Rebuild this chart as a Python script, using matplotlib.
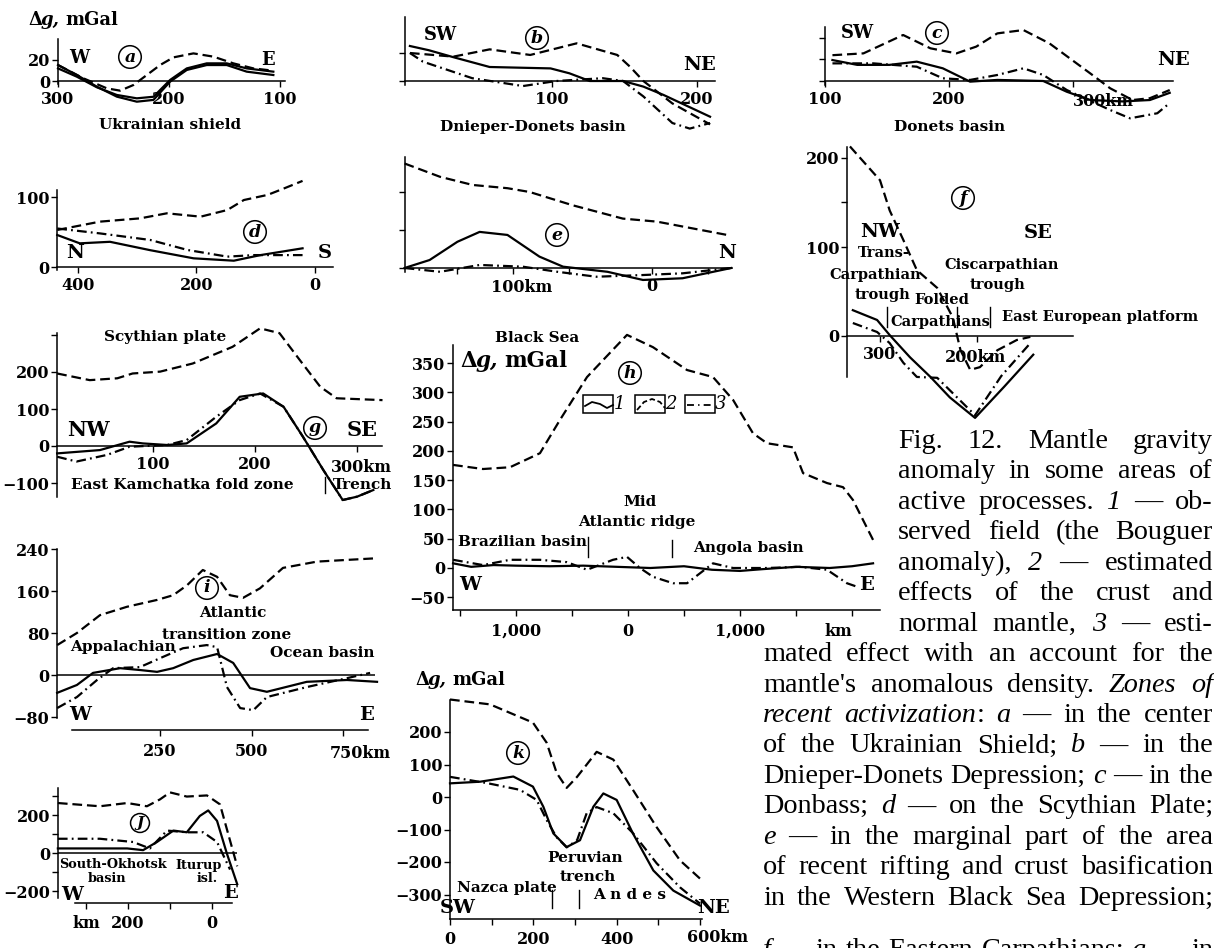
import matplotlib.pyplot as plt
from matplotlib.patches import Rectangle

plt.rcParams['font.family'] = ['DejaVu Serif']
plt.rcParams['font.weight'] = 'bold'
plt.rcParams['lines.scale_dashes'] = False
plt.rcParams['axes.linewidth'] = 1.1

W, H = 1214, 948
MINUS = '\u2212'

# ---------------- data (km, mGal) ----------------
# a  Ukrainian shield
a_obs_km = [300, 283, 265, 247, 229, 214, 199, 184, 166, 148, 130, 106]
a_obs = [15.2, 5.7, -5.4, -14.9, -19.7, -18, -0.6, 10.5, 15.2, 15.2, 8.9, 5.7]
a_crust_km = [300, 277, 256, 244, 232, 220, 208, 196, 178, 160, 142, 124, 106]
a_crust = [15.2, 2.5, -7, -9.2, -3.8, 5.7, 15.2, 22.5, 26.3, 23.2, 16.8, 12, 9.8]
a_mant_km = [300, 283, 265, 247, 229, 214, 199, 184, 166, 148, 130, 106]
a_mant = [12, 4.1, -6, -13.3, -16.5, -15, 1, 12, 16.8, 16.8, 12, 8.9]

# b  Dnieper-Donets basin
b_obs_km = [2, 15, 32, 57, 99, 112, 126, 149, 163, 177, 209]
b_obs = [25, 22, 17, 10, 9, 5.5, 0, 0, -4, -10, -25.5]
b_crust_km = [2, 32, 57, 85, 117, 145, 154, 163, 183, 209]
b_crust = [20, 17.4, 22.6, 18.6, 26.9, 18.6, 10, 0, -16, -31]
b_mant_km = [2, 11, 45, 80, 103, 135, 149, 163, 183, 195, 209]
b_mant = [20, 13.8, 2, -3.6, 0, 2, 0, -11, -30, -34, -30]

# c  Donets basin
c_obs_km = [106, 126, 152, 174, 195, 217, 239, 276, 295, 314, 340, 362, 378]
c_obs = [19.5, 15, 15, 18, 11.8, -0.6, 1, 0, -10, -17.7, -19, -17.7, -11]
c_crust_km = [106, 131, 163, 185, 206, 222, 239, 260, 281, 314, 330, 348, 362, 378]
c_crust = [24, 25.7, 42.8, 30.4, 25.7, 32, 44.3, 47.4, 35, 7, -6.8, -17.7, -16, -8.4]
c_mant_km = [106, 139, 174, 195, 217, 239, 260, 276, 295, 330, 346, 368, 378]
c_mant = [16.4, 16.4, 13.3, 2.5, 1, 5.6, 11.8, 5.6, -8.4, -27, -34.7, -30, -20.5]

# d  Scythian plate
d_obs_km = [435, 397, 346, 278, 205, 137, 92, 21]
d_obs = [45.7, 33.8, 36, 24, 12.4, 9, 17, 26.7]
d_crust_km = [435, 363, 295, 250, 193, 148, 120, 80, 53, 21]
d_crust = [52.9, 64.8, 69.5, 76.7, 71.9, 81.4, 95.7, 103, 112, 123]
d_mant_km = [435, 363, 278, 215, 148, 103, 21]
d_mant = [55, 48, 38.6, 24.3, 14.8, 17, 17]

# e  Western Black Sea
e_obs_km = [178, 160, 140, 124, 104, 81, 64, 32, 6.5, -22, -57]
e_obs = [0, 4.2, 13.8, 19, 17.4, 6, 0.7, -2, -6.3, -5.4, 0]
e_crust_km = [178, 152.5, 129, 104, 88, 57, 21, -3.6, -54]
e_crust = [55, 48, 43.7, 42, 40, 33, 26, 24.4, 17.4]
e_mant_km = [178, 152.5, 124, 93, 68, 40, 6.5, -22, -57]
e_mant = [0, -2, 1.6, 0.7, -2, -4.6, -3.7, -2.8, 0]

# f  Eastern Carpathians
f_obs_km = [328, 303, 290, 269, 248, 228, 202, 172, 142]
f_obs = [29, 18, 1, -24, -46, -69, -92, -57, -21]
f_crust_km = [331, 300, 290, 276, 262, 241, 225, 217, 207, 197, 179, 159, 145]
f_crust = [213, 175, 141, 108, 74, 54, 21, -16, -38, -35, -16, -4.5, -1]
f_mant_km = [328, 303, 290, 276, 262, 241, 202, 175, 145]
f_mant = [14.6, 4.5, -8, -30, -46, -47, -89, -45, -8]

# g  East Kamchatka
g_obs_km = [6, 48, 77, 90, 114, 133, 162, 185, 208, 228, 247, 267, 286, 300, 316]
g_obs = [-20, -11, 11.6, 7, 2.7, 7, 61, 133, 142, 106, 25, -65, -146, -137, -119]
g_crust_km = [6, 38, 65, 80, 107, 139, 178, 205, 224, 244, 264, 280, 325]
g_crust = [196, 178, 183, 196, 201, 223, 268, 318, 305, 232, 160, 129, 124]
g_mant_km = [6, 25, 55, 77, 114, 133, 162, 185, 205, 228, 247, 267, 286, 300, 316]
g_mant = [-29, -42, -24, -2, 2.7, 16, 79, 124, 142, 106, 25, -65, -146, -137, -119]

# h  Mid-Atlantic ridge
h_obs_km = [-1562, -1400, -1200, -1000, -700, -400, -100, 200, 500, 750, 1000, 1200,
            1500, 1800, 2000, 2188]
h_obs = [8, 2, 5, 4, 3, 4, 2, 0, 3, -3, -5, -2, 2, 0, 3, 8]
h_crust_km = [-1562, -1295, -1054, -786, -607, -366, -9, 223, 527, 759, 938, 1116,
              1241, 1473, 1563, 1777, 1920, 2009, 2188]
h_crust = [176, 169, 172, 196, 253, 326, 398, 377, 338, 326, 287, 230, 213, 206, 162,
           145, 138, 116, 48]
h_mant_km = [-1562, -1295, -1054, -786, -545, -366, -134, -9, 107, 223, 402, 527, 643,
             759, 938, 1241, 1536, 1777, 1955, 2045]
h_mant = [14, 5, 14, 14, 10, -3, 14, 19, 0, -15, -26, -26, -9, 8, 0, 0, 2, -3, -26, -32]

# i  Atlantic transition zone
i_obs_km = [-31, 23, 67, 141, 195, 242, 286, 341, 406, 450, 496, 542, 651, 761, 843]
i_obs = [-34, -19, 4, 13, 9.5, 6, 13, 28.6, 40, 23, -25, -32, -13, -9.5, -13]
i_crust_km = [-31, 23, 86, 160, 242, 286, 324, 367, 406, 441, 477, 523, 586, 679, 832]
i_crust = [57, 80, 114, 130, 143, 152, 171, 200, 187, 152, 147, 165, 204, 216, 222]
i_mant_km = [-31, 23, 78, 122, 195, 250, 313, 378, 406, 433, 469, 505, 542, 651, 761, 824]
i_mant = [-63, -42, -9.5, 13, 15, 32, 51, 57, 53, -23, -63, -67, -42, -23, -6, 4]

# j  South-Okhotsk basin / Iturup
j_obs_km = [367, 202, 164, 131, 92, 60, 29, 9, -12, -35, -60]
j_obs = [24, 24, 15, 58, 118, 109, 195, 224, 169, 0, -164]
j_crust_km = [367, 267, 202, 155, 124, 100, 60, 12, -19, -60]
j_crust = [263, 246, 263, 246, 282, 319, 297, 303, 256, -70]
j_mant_km = [367, 267, 188, 148, 107, 60, 21, -12, -43]
j_mant = [75, 75, 58, 24, 118, 109, 109, 58, -87]

# k  Peruvian trench / Andes
k_obs_km = [0, 72, 152, 199, 224, 248, 280, 312, 344, 368, 400, 439, 488, 536, 600]
k_obs = [42, 47, 63, 32, -30, -112, -154, -133, -30, 11, -9, -112, -226, -288, -334]
k_crust_km = [0, 96, 199, 232, 256, 280, 305, 352, 392, 439, 496, 552, 600]
k_crust = [300, 285, 229, 167, 74, 28, 62, 139, 115, 22, -93, -195, -251]
k_mant_km = [0, 88, 168, 208, 232, 256, 280, 305, 328, 352, 392, 439, 496, 552, 600]
k_mant = [62, 43, 22, -9, -71, -124, -155, -133, -50, -31, -50, -111, -204, -278, -328]

caption = [
    "Fig. 12. Mantle gravity",
    "anomaly in some areas of",
    "active processes. _1_ \u2014 ob-",
    "served field (the Bouguer",
    "anomaly), _2_ \u2014 estimated",
    "effects of the crust and",
    "normal mantle, _3_ \u2014 esti-",
    "mated effect with an account for the",
    "mantle's anomalous density. _Zones of_",
    "_recent activization_: _a_ \u2014 in the center",
    "of the Ukrainian Shield; _b_ \u2014 in the",
    "Dnieper-Donets Depression; _c_ \u2014 in the",
    "Donbass; _d_ \u2014 on the Scythian Plate;",
    "_e_ \u2014 in the marginal part of the area",
    "of recent rifting and crust basification",
    "in the Western Black Sea Depression;",
    "_f_ \u2014 in the Eastern Carpathians; _g_ \u2014 in",
]

# ---------------------------------------------------------------------
fig = plt.figure(figsize=(W / 100, H / 100), dpi=100)
LW = 1.6
DASH = (7, 3.5)
DASHDOT = (7, 3, 1.3, 3)
TICK_FS = 11.5


def fx(ref, px):
    p1, v1, p2, v2 = ref
    return v1 + (px - p1) * (v2 - v1) / (p2 - p1)


def panel(box, xref, yref, zero_spine=True):
    L, T, R, B = box
    ax = fig.add_axes([L / W, 1 - B / H, (R - L) / W, (B - T) / H])
    ax.set_xlim(fx(xref, L), fx(xref, R))
    ax.set_ylim(fx(yref, B), fx(yref, T))
    ax.patch.set_visible(False)
    ax.spines['top'].set_visible(False)
    ax.spines['right'].set_visible(False)
    if zero_spine:
        ax.spines['bottom'].set_position(('data', 0))
    ax.tick_params(direction='out', length=4, width=1.0, labelsize=TICK_FS,
                   pad=1.5)
    ax.tick_params(axis='x', pad=3.5)
    return ax


def curves(ax, x1, y1, x2, y2, x3, y3, third=DASHDOT):
    ax.plot(x2, y2, color='k', lw=LW, dashes=DASH, clip_on=False)
    if third is None:
        ax.plot(x3, y3, color='k', lw=LW, clip_on=False)
    else:
        ax.plot(x3, y3, color='k', lw=LW, dashes=third, clip_on=False)
    ax.plot(x1, y1, color='k', lw=LW, clip_on=False)


# a
ax = panel((58, 39, 285, 84), (58, 300, 280, 100), (81, 0, 60, 20))
curves(ax, a_obs_km, a_obs, a_crust_km, a_crust, a_mant_km, a_mant, third=None)
ax.set_xticks([300, 200, 100], ['300', '200', '100'])
ax.set_yticks([0, 20], ['0', '20'])

# b
ax = panel((405, 17, 715, 85), (407, 0, 552, 100), (81, 0, 53, 20))
curves(ax, b_obs_km, b_obs, b_crust_km, b_crust, b_mant_km, b_mant)
ax.set_xticks([100, 200], ['100', '200'])
ax.set_yticks([0, 20], ['', ''])

# c
ax = panel((825, 27, 1173, 85), (825, 100, 1073, 300), (81, 0, 59.5, 20))
curves(ax, c_obs_km, c_obs, c_crust_km, c_crust, c_mant_km, c_mant)
ax.set_xticks([100, 200, 300], ['100', '200', ''])
ax.set_yticks([0, 20, 40], ['', '', ''])

# d
ax = panel((57, 190, 333, 270), (78, 400, 315, 0), (267, 0, 197, 100))
curves(ax, d_obs_km, d_obs, d_crust_km, d_crust, d_mant_km, d_mant)
ax.set_xticks([400, 200, 0], ['400', '200', '0'])
ax.set_yticks([0, 100], ['0', '100'])

# e
ax = panel((405, 157, 732, 272), (513, 100, 652, 0), (268, 0, 192, 40))
curves(ax, e_obs_km, e_obs, e_crust_km, e_crust, e_mant_km, e_mant)
ax.set_xticks([140, 100, 60, 0, -40], ['', '', '', '0', ''])
ax.set_yticks([0, 20, 40], ['', '', ''])

# f
ax = panel((847, 147, 1073, 377), (880, 300, 977, 200), (336, 0, 247, 100))
curves(ax, f_obs_km, f_obs, f_crust_km, f_crust, f_mant_km, f_mant)
ax.set_xticks([300, 200], ['300', ''])
ax.set_yticks([0, 100, 150, 200], ['0', '100', '', '200'])

# g
ax = panel((57, 333, 382, 497), (153, 100, 357, 300), (446, 0, 372, 200))
curves(ax, g_obs_km, g_obs, g_crust_km, g_crust, g_mant_km, g_mant)
ax.set_xticks([100, 200, 300], ['100', '200', ''])
ax.set_yticks([-100, 0, 100, 200, 300],
              [MINUS + '100', '0', '100', '200', ''])

# h
ax = panel((453, 345, 880, 610), (628, 0, 740, 1000), (568, 0, 363, 350),
           zero_spine=False)
curves(ax, h_obs_km, h_obs, h_crust_km, h_crust, h_mant_km, h_mant)
ax.set_xticks([-1500, -1000, -500, 0, 500, 1000, 1500, 2000],
              ['', '1,000', '', '0', '', '1,000', '', ''])
ax.set_yticks(range(-50, 351, 50),
              [MINUS + '50'] + [str(v) for v in range(0, 351, 50)])
ax.tick_params(axis='x', pad=5)

# i
iref = (160, 250, 343, 750)
ax = panel((57, 545, 375, 730), iref, (675, 0, 549, 240), zero_spine=False)
ax.axhline(0, color='k', lw=1.1)
ax.spines['bottom'].set_bounds(fx(iref, 72), fx(iref, 368))
curves(ax, i_obs_km, i_obs, i_crust_km, i_crust, i_mant_km, i_mant)
ax.set_xticks([250, 500, 750], ['250', '500', ''])
ax.set_yticks([-80, 0, 80, 160, 240], [MINUS + '80', '0', '80', '160', '240'])
ax.spines['left'].set_bounds(fx((675, 0, 549, 240), 718), 240)
ax.tick_params(axis='x', pad=5)

# j
jref = (212, 0, 128, 200)
jyref = (853, 0, 815, 200)
ax = panel((58, 788, 237, 903), jref, jyref, zero_spine=False)
ax.axhline(0, color='k', lw=1.1)
ax.spines['bottom'].set_bounds(fx(jref, 75), fx(jref, 232))
ax.spines['left'].set_bounds(fx(jyref, 898), fx(jyref, 788))
curves(ax, j_obs_km, j_obs, j_crust_km, j_crust, j_mant_km, j_mant)
ax.set_xticks([300, 200, 100, 0], ['km', '200', '', '0'])
ax.set_yticks([-200, -100, 0, 100, 200, 300],
              [MINUS + '200', '', '0', '', '200', ''])
ax.tick_params(axis='x', pad=5)

# k
ax = panel((450, 700, 702, 919), (450, 0, 700, 600), (797, 0, 732, 200),
           zero_spine=False)
curves(ax, k_obs_km, k_obs, k_crust_km, k_crust, k_mant_km, k_mant)
ax.set_xticks(range(0, 601, 100), ['0', '', '200', '', '400', '', ''])
ax.set_yticks(range(-300, 201, 100),
              [MINUS + '300', MINUS + '200', MINUS + '100', '0', '100', '200'])
ax.tick_params(axis='x', pad=5)

# ---------------- overlay in pixel coordinates: labels & caption ----------------
ax0 = fig.add_axes([0, 0, 1, 1])
ax0.set_xlim(0, W)
ax0.set_ylim(H, 0)
ax0.axis('off')


def txt(x, y, s, size=11, ha='center', va='center', **kw):
    ax0.text(x, y, s, fontsize=size, ha=ha, va=va, **kw)


def circ(x, y, s, size=12.5):
    ax0.text(x, y, s, fontsize=size, ha='center', va='center', style='italic',
             bbox=dict(boxstyle='circle,pad=0.16', fc='none', ec='k', lw=1.1))


def dgal(x, y, size):
    ax0.text(x, y, '\u0394', fontsize=size, ha='left', va='baseline')
    ax0.text(x + size * 1.0, y, 'g,', fontsize=size, ha='left', va='baseline',
             style='italic')
    ax0.text(x + size * 2.85, y, 'mGal', fontsize=size, ha='left', va='baseline')


def bar(x, y1, y2):
    ax0.plot([x, x], [y1, y2], color='k', lw=1.0)


dgal(28, 25, 13)
dgal(460, 367, 15.5)
dgal(415, 685, 13)

KM_FS = 11.5
# a
txt(79, 58, 'W', 13); circ(130, 57, 'a'); txt(268, 60, 'E', 13)
txt(170, 125, 'Ukrainian shield', 11)
# b
txt(440, 35, 'SW', 13); circ(537, 38, 'b'); txt(700, 65, 'NE', 14)
txt(533, 127, 'Dnieper-Donets basin', 11)
# c
txt(857, 33, 'SW', 13); circ(937, 33, 'c'); txt(1173, 60, 'NE', 14)
txt(950, 127, 'Donets basin', 11)
txt(1103, 101, '300km', KM_FS)
# d
txt(75, 253, 'N', 14); circ(255, 232, 'd'); txt(325, 253, 'S', 14)
# e
circ(557, 235, 'e'); txt(727, 253, 'N', 14)
txt(522, 288, '100km', KM_FS)
# f
circ(963, 198, 'f'); txt(880, 232, 'NW', 14); txt(1038, 233, 'SE', 14)
txt(884, 253, 'Trans-', 10.5); txt(875, 275, 'Carpathian', 10.5)
txt(882, 295, 'trough', 10.5); txt(942, 300, 'Folded', 10.5)
txt(940, 322, 'Carpathians', 10.5); txt(1002, 265, 'Ciscarpathian', 10.5)
txt(997, 285, 'trough', 10.5); txt(1100, 317, 'East European platform', 10.5)
bar(887, 307, 327); bar(957, 307, 327); bar(990, 307, 327)
txt(975, 358, '200km', KM_FS)
# g
txt(165, 337, 'Scythian plate', 11)
txt(88, 430, 'NW', 15); circ(315, 428, 'g'); txt(362, 430, 'SE', 15)
txt(182, 485, 'East Kamchatka fold zone', 11); txt(363, 485, 'Trench', 11)
bar(325, 477, 493)
txt(361, 467, '300km', KM_FS)
# h
txt(537, 338, 'Black Sea', 11); circ(630, 373, 'h')
for bx, lab in [(583, '1'), (635, '2'), (685, '3')]:
    ax0.add_patch(Rectangle((bx, 395), 30, 18, fc='none', ec='k', lw=1.1))
    txt(bx + 36, 404, lab, 13, style='italic', weight='normal')
ax0.plot([585, 592, 600, 607, 613], [406, 402, 404, 408, 405], color='k', lw=1.3)
ax0.plot([637, 644, 652, 660, 665], [410, 402, 399, 402, 408], color='k', lw=1.3,
         dashes=(4, 2))
ax0.plot([687, 711], [405, 405], color='k', lw=1.3, dashes=(5, 3, 1, 3))
txt(640, 502, 'Mid', 11); txt(637, 522, 'Atlantic ridge', 11)
txt(523, 542, 'Brazilian basin', 11); txt(748, 548, 'Angola basin', 11)
bar(588, 537, 557); bar(672, 540, 557)
txt(470, 585, 'W', 14); txt(866, 585, 'E', 14)
txt(838, 632, 'km', KM_FS)
# i
circ(207, 588, 'i'); txt(233, 613, 'Atlantic', 11)
txt(227, 635, 'transition zone', 11); txt(123, 647, 'Appalachian', 11)
txt(322, 653, 'Ocean basin', 11); txt(80, 715, 'W', 14); txt(367, 715, 'E', 14)
txt(360, 753, '750km', KM_FS)
# j
circ(140, 823, 'J', 11)
txt(113, 865, 'South-Okhotsk', 9.3); txt(107, 878, 'basin', 9.3)
txt(199, 865, 'Iturup', 9.3); txt(207, 878, 'isl.', 9.3)
txt(72, 895, 'W', 14); txt(230, 893, 'E', 14)
# k
circ(518, 753, 'k'); txt(585, 858, 'Peruvian', 11); txt(588, 877, 'trench', 11)
txt(507, 888, 'Nazca plate', 11); txt(630, 895, 'A n d e s', 11)
txt(458, 908, 'SW', 14); txt(713, 908, 'NE', 14)
bar(552, 890, 908); bar(579, 890, 908)
txt(718, 938, '600km', KM_FS)

# ---------------- justified caption ----------------
renderer = fig.canvas.get_renderer()
CAP_FAMILY = ['Liberation Serif', 'DejaVu Serif']


def words_of(line):
    words = [[]]
    for k, seg in enumerate(line.split('_')):
        for j, p in enumerate(seg.split(' ')):
            if j > 0:
                words.append([])
            if p:
                words[-1].append((p, k % 2 == 1))
    return [w for w in words if w]


def piece_w(s, ital, fs):
    t = ax0.text(0, 0, s, fontsize=fs, weight='normal', family=CAP_FAMILY,
                 style='italic' if ital else 'normal')
    w = t.get_window_extent(renderer).width
    t.remove()
    return w


CAP_FS = 24
space_w = piece_w('a a', False, CAP_FS) - piece_w('aa', False, CAP_FS)
ratios = []
for n, line in enumerate(caption[:-1]):
    x0 = 898 if n < 7 else 763
    ww = [sum(piece_w(p, it, CAP_FS) for p, it in w) for w in words_of(line)]
    ratios.append((sum(ww) + space_w * (len(ww) - 1)) / (1213 - x0))
fs = CAP_FS * min(1.0, 0.995 / max(ratios))

for n, line in enumerate(caption):
    x0 = 898 if n < 7 else 763
    y = 448 + n * 30.45 + (22 if n == 16 else 0)
    words = words_of(line)
    widths = [[piece_w(p, it, fs) for p, it in w] for w in words]
    total = sum(sum(w) for w in widths)
    gap = max(space_w * fs / CAP_FS, (1213 - x0 - total) / (len(words) - 1))
    x = x0
    for w, ws in zip(words, widths):
        for (p, it), pw in zip(w, ws):
            ax0.text(x, y, p, fontsize=fs, weight='normal', ha='left',
                     va='baseline', family=CAP_FAMILY,
                     style='italic' if it else 'normal')
            x += pw
        x += gap

fig.savefig('out.png', dpi=100)
